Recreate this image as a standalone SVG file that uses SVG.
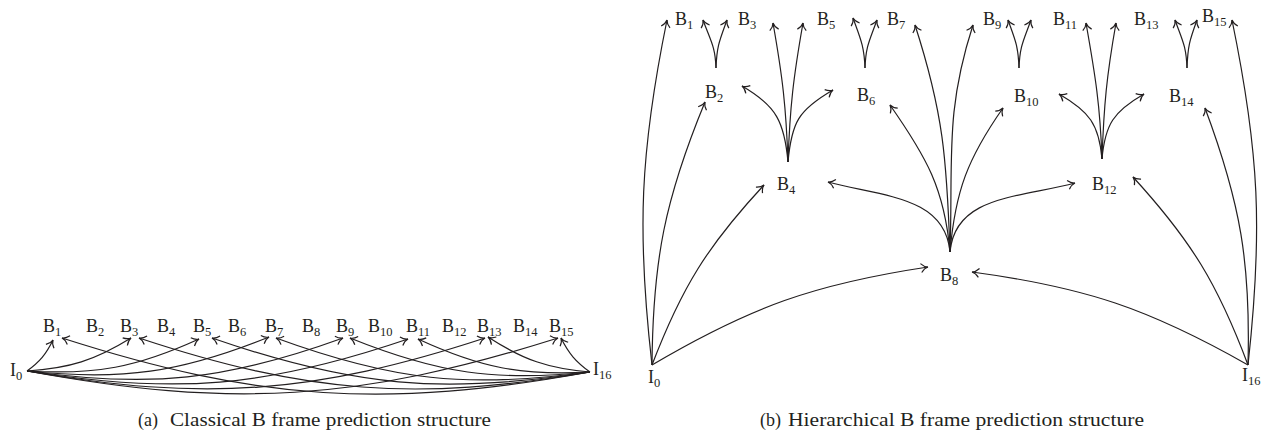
<svg xmlns="http://www.w3.org/2000/svg" width="1265" height="434" viewBox="0 0 1265 434">
<defs>
<style>
.lb{font-family:"Liberation Serif","DejaVu Serif",serif;font-size:18px;fill:#231f20}
.sb{font-size:12.5px}
.cap{font-family:"Liberation Serif","DejaVu Serif",serif;font-size:18px;fill:#231f20}
.e{fill:none;stroke:#231f20;stroke-width:1.2;marker-end:url(#arr)}
</style>
<marker id="arr" viewBox="-10 -10 20 20" refX="0" refY="0" markerWidth="20" markerHeight="20" markerUnits="userSpaceOnUse" orient="auto">
<path d="M -7,-4.5 C -4.5,-1.5 -2,-0.3 0,0 C -2,0.3 -4.5,1.5 -7,4.5" fill="none" stroke="#231f20" stroke-width="1.2"/>
</marker>
</defs>
<rect width="1265" height="434" fill="#fff"/>

<!-- (a) classical -->
<g id="a-connectors">
<path class="e" d="M27,371 C39.8,361.7 46.1,354.2 53,340"/>
<path class="e" d="M27,371 C69.6,368.3 94.6,360.4 131,338"/>
<path class="e" d="M27,371 C95.4,375.1 136.6,367.5 199,339"/>
<path class="e" d="M27,371 C122.2,381 180.2,372.8 269,337"/>
<path class="e" d="M27,371 C150.2,388.4 226,380.4 343,338"/>
<path class="e" d="M27,371 C174.8,394.9 266.2,387.3 408,339"/>
<path class="e" d="M27,371 C204.1,401.9 314.1,393.9 485,338"/>
<path class="e" d="M27,371 C231.9,408.8 359.3,400.8 558,338"/>
<path class="e" d="M590,372 C575.8,361.8 568.8,353.6 561,338"/>
<path class="e" d="M590,372 C547.9,368.4 523.5,360 488,337"/>
<path class="e" d="M590,372 C521.5,375.8 480.3,367.8 418,339"/>
<path class="e" d="M590,372 C495.6,381.8 438,373.6 350,338"/>
<path class="e" d="M590,372 C467.5,388.8 392.1,380.6 276,338"/>
<path class="e" d="M590,372 C443.2,394.9 352.4,386.7 212,338"/>
<path class="e" d="M590,372 C415.4,401.8 307.2,393.6 139,338"/>
<path class="e" d="M590,372 C386.2,409.1 258.2,400.9 62,338"/>
</g>
<g id="a-I0"><text class="lb" x="10" y="376">I<tspan class="sb" dy="4">0</tspan></text></g>
<g id="a-B1"><text class="lb" x="43" y="332">B<tspan class="sb" dy="4">1</tspan></text></g>
<g id="a-B2"><text class="lb" x="86" y="332">B<tspan class="sb" dy="4">2</tspan></text></g>
<g id="a-B3"><text class="lb" x="120" y="332">B<tspan class="sb" dy="4">3</tspan></text></g>
<g id="a-B4"><text class="lb" x="157" y="332">B<tspan class="sb" dy="4">4</tspan></text></g>
<g id="a-B5"><text class="lb" x="193" y="332">B<tspan class="sb" dy="4">5</tspan></text></g>
<g id="a-B6"><text class="lb" x="228" y="332">B<tspan class="sb" dy="4">6</tspan></text></g>
<g id="a-B7"><text class="lb" x="265" y="332">B<tspan class="sb" dy="4">7</tspan></text></g>
<g id="a-B8"><text class="lb" x="302" y="332">B<tspan class="sb" dy="4">8</tspan></text></g>
<g id="a-B9"><text class="lb" x="336" y="332">B<tspan class="sb" dy="4">9</tspan></text></g>
<g id="a-B10"><text class="lb" x="368" y="332">B<tspan class="sb" dy="4">10</tspan></text></g>
<g id="a-B11"><text class="lb" x="406" y="332">B<tspan class="sb" dy="4">11</tspan></text></g>
<g id="a-B12"><text class="lb" x="442" y="332">B<tspan class="sb" dy="4">12</tspan></text></g>
<g id="a-B13"><text class="lb" x="477" y="332">B<tspan class="sb" dy="4">13</tspan></text></g>
<g id="a-B14"><text class="lb" x="513" y="332">B<tspan class="sb" dy="4">14</tspan></text></g>
<g id="a-B15"><text class="lb" x="549" y="332">B<tspan class="sb" dy="4">15</tspan></text></g>
<g id="a-I16"><text class="lb" x="593" y="375">I<tspan class="sb" dy="4">16</tspan></text></g>
<g id="a-caption"><text class="cap" x="138" y="426">(a)</text><text class="cap" x="170" y="426" textLength="321" lengthAdjust="spacingAndGlyphs">Classical B frame prediction structure</text></g>

<!-- (b) hierarchical -->
<g id="b-connectors">
<path class="e" d="M652,365 C636.7,231.6 640.1,151.6 667,20"/>
<path class="e" d="M652,365 C652.8,260 665,199 705,102"/>
<path class="e" d="M652,365 C681.6,287.5 707.6,245.7 764,185"/>
<path class="e" d="M652,365 C750.7,306.8 814.7,284 928,267"/>
<path class="e" d="M1248,365 C1148.9,308.7 1084.9,287.1 972,272"/>
<path class="e" d="M1248,365 C1217.8,284.2 1191.2,240.6 1133,177"/>
<path class="e" d="M1248,365 C1250.7,263.1 1240.7,203.5 1205,108"/>
<path class="e" d="M1248,365 C1262.9,230.6 1259.3,152.4 1232,20"/>
<path class="e" d="M950,252 C945.1,196.2 882.1,196.5 828,182"/>
<path class="e" d="M950,252 C955,195.2 1019.9,197.8 1075,183"/>
<path class="e" d="M950,252 C944.5,188.8 926.4,157 890,105"/>
<path class="e" d="M950,252 C955.3,190.8 967.8,158.3 1003,108"/>
<path class="e" d="M950,252 C946.8,160.1 943.4,112.5 915,25"/>
<path class="e" d="M950,252 C953.2,160.1 944.6,112.5 973,25"/>
<path class="e" d="M788,162 C784.5,122.2 776.6,106 742,86"/>
<path class="e" d="M788,162 C791.5,122.2 798.4,110 833,90"/>
<path class="e" d="M788,162 C786.1,107 782.6,77.2 773,23"/>
<path class="e" d="M788,162 C789.9,107 793.4,77.2 803,23"/>
<path class="e" d="M1102,159 C1099,124.1 1089.3,111.5 1059,94"/>
<path class="e" d="M1102,159 C1105,124.1 1113.7,111.5 1144,94"/>
<path class="e" d="M1102,159 C1100.1,105 1095.4,76.2 1086,23"/>
<path class="e" d="M1102,159 C1103.9,105 1106.6,76.2 1116,23"/>
<path class="e" d="M716,68 C715.2,46 710.5,40.7 703,20"/>
<path class="e" d="M716,68 C716.8,46 719.5,40.7 727,20"/>
<path class="e" d="M865,68 C864.2,46 860.5,38.7 853,18"/>
<path class="e" d="M865,68 C865.8,46 869.5,40.7 877,20"/>
<path class="e" d="M1019,68 C1018.2,46 1015.5,40.7 1008,20"/>
<path class="e" d="M1019,68 C1019.8,46 1023.5,40.7 1031,20"/>
<path class="e" d="M1187,68 C1186.2,46 1182.5,40.7 1175,20"/>
<path class="e" d="M1187,68 C1187.8,46 1189.5,40.7 1197,20"/>
</g>
<g id="b-B1"><text class="lb" x="675" y="25">B<tspan class="sb" dy="4">1</tspan></text></g>
<g id="b-B3"><text class="lb" x="738" y="25">B<tspan class="sb" dy="4">3</tspan></text></g>
<g id="b-B5"><text class="lb" x="817" y="25">B<tspan class="sb" dy="4">5</tspan></text></g>
<g id="b-B7"><text class="lb" x="887" y="25">B<tspan class="sb" dy="4">7</tspan></text></g>
<g id="b-B9"><text class="lb" x="983" y="25">B<tspan class="sb" dy="4">9</tspan></text></g>
<g id="b-B11"><text class="lb" x="1053" y="25">B<tspan class="sb" dy="4">11</tspan></text></g>
<g id="b-B13"><text class="lb" x="1134" y="25">B<tspan class="sb" dy="4">13</tspan></text></g>
<g id="b-B15"><text class="lb" x="1202" y="22">B<tspan class="sb" dy="4">15</tspan></text></g>
<g id="b-B2"><text class="lb" x="705" y="98">B<tspan class="sb" dy="4">2</tspan></text></g>
<g id="b-B6"><text class="lb" x="857" y="101">B<tspan class="sb" dy="4">6</tspan></text></g>
<g id="b-B10"><text class="lb" x="1014" y="102">B<tspan class="sb" dy="4">10</tspan></text></g>
<g id="b-B14"><text class="lb" x="1169" y="102">B<tspan class="sb" dy="4">14</tspan></text></g>
<g id="b-B4"><text class="lb" x="777" y="190">B<tspan class="sb" dy="4">4</tspan></text></g>
<g id="b-B12"><text class="lb" x="1092" y="190">B<tspan class="sb" dy="4">12</tspan></text></g>
<g id="b-B8"><text class="lb" x="940" y="281">B<tspan class="sb" dy="4">8</tspan></text></g>
<g id="b-I0"><text class="lb" x="648" y="383">I<tspan class="sb" dy="4">0</tspan></text></g>
<g id="b-I16"><text class="lb" x="1242" y="381">I<tspan class="sb" dy="4">16</tspan></text></g>
<g id="b-caption"><text class="cap" x="760" y="426">(b)</text><text class="cap" x="788" y="426" textLength="356" lengthAdjust="spacingAndGlyphs">Hierarchical B frame prediction structure</text></g>
</svg>
